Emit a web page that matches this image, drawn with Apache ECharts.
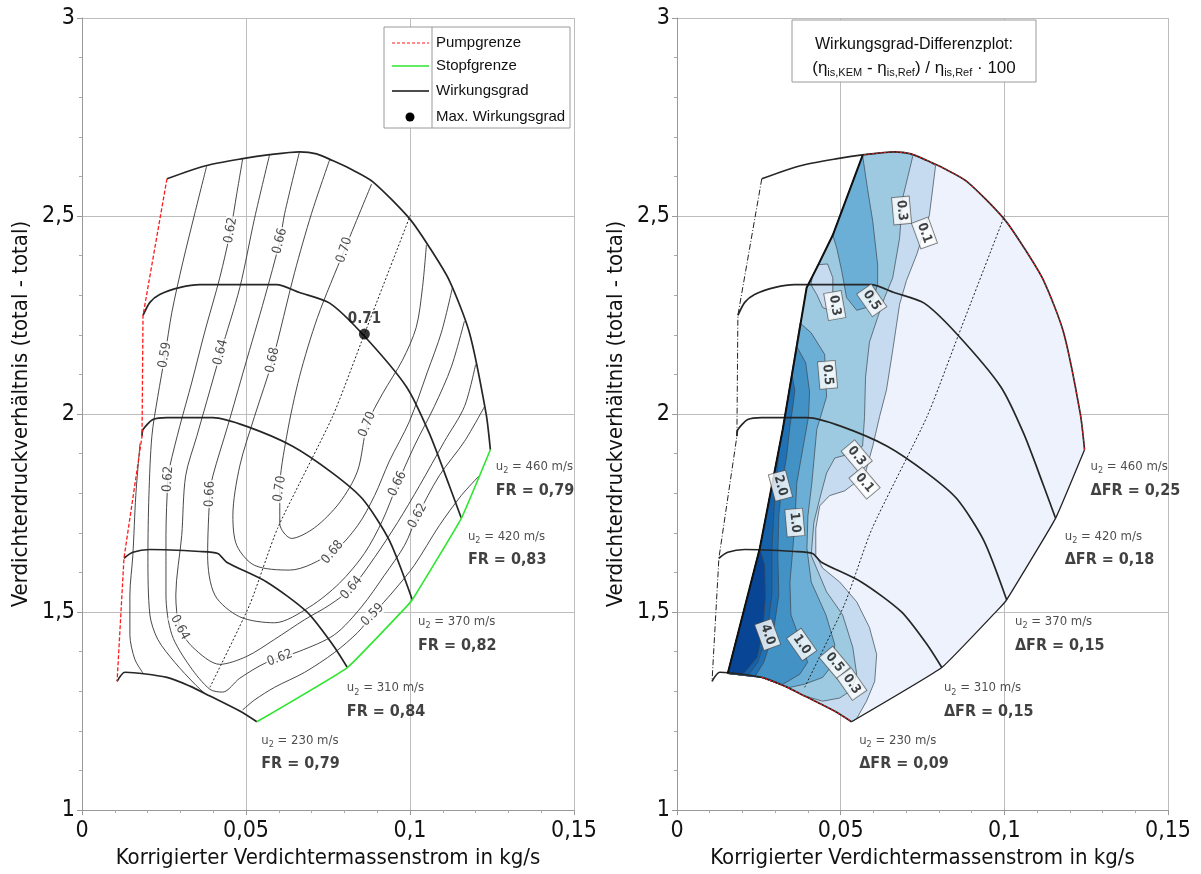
<!DOCTYPE html>
<html><head><meta charset="utf-8">
<script src="https://cdn.jsdelivr.net/npm/echarts@6/dist/echarts.min.js"></script>
<style>html,body{margin:0;padding:0;background:#fff}#c{width:1201px;height:874px}</style>
</head><body><div id="c"></div>
<script>
const NARROW = "'Liberation Sans Narrow','Arial Narrow','DejaVu Sans Condensed',sans-serif";
const REG = "'Liberation Sans',Arial,sans-serif";

// ---- axes ----
const xRange = [0, 0.15], xStep = 0.05;
const yRange = [1, 3], yStep = 0.5;
const xName = 'Korrigierter Verdichtermassenstrom in kg/s';
const yName = 'Verdichterdruckverhältnis (total - total)';

// ---- reference map (shared) ----
const surgeRef = [[0.0259,2.594],[0.0186,2.249],[0.0183,1.944],[0.0128,1.636],[0.0107,1.325]];
const speed460 = [[0.0259,2.594],[0.0377,2.627],[0.0490,2.645],[0.0572,2.655],[0.0663,2.662],[0.0715,2.657],[0.0764,2.640],[0.0816,2.620],[0.0886,2.587],[0.0998,2.494],[0.1060,2.420],[0.1120,2.337],[0.1181,2.206],[0.1232,2.001],[0.1245,1.910]];
const speed420 = [[0.0186,2.249],[0.0207,2.282],[0.0237,2.302],[0.0300,2.320],[0.0359,2.327],[0.0593,2.327],[0.0663,2.307],[0.0755,2.280],[0.0855,2.202],[0.0989,2.069],[0.1059,1.951],[0.1120,1.819],[0.1156,1.738]];
const speed370 = [[0.0183,1.944],[0.0186,1.961],[0.0216,1.986],[0.0259,1.991],[0.0399,1.991],[0.0502,1.969],[0.0642,1.919],[0.0764,1.851],[0.0855,1.786],[0.0937,1.681],[0.1007,1.531]];
const speed310 = [[0.0128,1.636],[0.0155,1.651],[0.0207,1.658],[0.0359,1.653],[0.0414,1.648],[0.0441,1.626],[0.0563,1.576],[0.0685,1.501],[0.0764,1.418],[0.0809,1.360]];
const speed230 = [[0.0107,1.325],[0.0131,1.348],[0.0259,1.335],[0.0329,1.313],[0.0390,1.288],[0.0481,1.250],[0.0533,1.223]];
const choke = [[0.0533,1.223],[0.0809,1.360],[0.0977,1.503],[0.1007,1.531],[0.1156,1.736],[0.1245,1.910]];
const maxEffLine = [[0.0390,1.310],[0.0511,1.518],[0.0596,1.711],[0.0764,1.994],[0.0861,2.202],[0.1001,2.502]];
const maxPoint = [0.0861, 2.202];

// ---- efficiency contours (left) ----
const c057 = [[0.0177,1.926],[0.0164,1.794],[0.0155,1.643],[0.0146,1.543],[0.0146,1.443],[0.0161,1.381],[0.0186,1.346]];
const c059L = [[0.0380,2.626],[0.0344,2.507],[0.0307,2.382],[0.0274,2.257],[0.0253,2.149],[0.0231,2.044],[0.0213,1.944],[0.0204,1.794],[0.0201,1.643],[0.0207,1.493],[0.0231,1.431],[0.0283,1.373],[0.0344,1.318],[0.0374,1.295]];
const c062 = [[0.0490,2.645],[0.0472,2.557],[0.0453,2.464],[0.0420,2.344],[0.0374,2.207],[0.0335,2.081],[0.0298,1.969],[0.0268,1.869],[0.0262,1.836],[0.0256,1.693],[0.0256,1.543],[0.0274,1.443],[0.0329,1.363],[0.0390,1.305],[0.0429,1.298],[0.0481,1.333],[0.0563,1.373],[0.0663,1.401],[0.0770,1.443],[0.0852,1.513],[0.0922,1.593],[0.0983,1.668],[0.1023,1.743],[0.1089,1.844],[0.1166,1.931],[0.1228,2.020]];
const c064 = [[0.0572,2.655],[0.0526,2.494],[0.0481,2.319],[0.0423,2.156],[0.0380,2.031],[0.0350,1.944],[0.0316,1.844],[0.0304,1.693],[0.0286,1.543],[0.0298,1.461],[0.0338,1.411],[0.0420,1.368],[0.0502,1.388],[0.0587,1.431],[0.0679,1.481],[0.0755,1.518],[0.0822,1.561],[0.0892,1.638],[0.0962,1.726],[0.1029,1.819],[0.1105,1.931],[0.1166,2.019],[0.1200,2.125]];
const c066 = [[0.0663,2.662],[0.0618,2.507],[0.0603,2.437],[0.0557,2.294],[0.0496,2.119],[0.0444,1.969],[0.0399,1.844],[0.0390,1.798],[0.0383,1.643],[0.0405,1.543],[0.0481,1.488],[0.0587,1.473],[0.0694,1.513],[0.0785,1.573],[0.0861,1.648],[0.0916,1.731],[0.0962,1.824],[0.1013,1.919],[0.1074,2.019],[0.1126,2.119],[0.1166,2.235]];
const c068 = [[0.0755,2.642],[0.0700,2.507],[0.0648,2.357],[0.0581,2.136],[0.0526,1.994],[0.0481,1.869],[0.0460,1.743],[0.0472,1.668],[0.0526,1.618],[0.0633,1.606],[0.0764,1.651],[0.0840,1.718],[0.0892,1.794],[0.0937,1.881],[0.0998,1.981],[0.1053,2.106],[0.1096,2.207],[0.1129,2.318]];
const c070 = [[0.0883,2.581],[0.0800,2.414],[0.0718,2.244],[0.0663,2.094],[0.0624,1.944],[0.0603,1.811],[0.0603,1.723],[0.0639,1.686],[0.0709,1.713],[0.0785,1.776],[0.0840,1.856],[0.0870,1.974],[0.0916,2.051],[0.0977,2.136],[0.1019,2.219],[0.1038,2.319],[0.1050,2.427]];
const c059R = [[0.0490,1.253],[0.0526,1.278],[0.0587,1.310],[0.0679,1.348],[0.0770,1.398],[0.0840,1.448],[0.0886,1.493],[0.0953,1.556],[0.1013,1.618],[0.1089,1.718],[0.1156,1.794],[0.1211,1.844]];
const contoursLeft = [c057, c059L, c062, c064, c066, c068, c070, c059R];
// [x, y, text, rotation]
const effLabels = [[0.0253,2.149,'0.59',80],[0.0453,2.464,'0.62',80],[0.0603,2.437,'0.66',76],[0.0800,2.414,'0.70',72],[0.0423,2.156,'0.64',76],[0.0581,2.136,'0.68',78],[0.0262,1.836,'0.62',86],[0.0390,1.798,'0.66',88],[0.0603,1.811,'0.70',82],[0.0870,1.974,'0.70',68],[0.0962,1.824,'0.66',65],[0.1023,1.743,'0.62',62],[0.0764,1.651,'0.68',50],[0.0822,1.561,'0.64',50],[0.0886,1.493,'0.59',45],[0.0603,1.384,'0.62',20],[0.0298,1.461,'0.64',-62]];

// ---- speed labels ----
const speedNames = ['460','420','370','310','230'];
const frLeft = ['0,79','0,83','0,82','0,84','0,79'];
const frRight = ['0,25','0,18','0,15','0,15','0,09'];
const anchorLeft = [[0.1263,1.889],[0.1178,1.713],[0.1026,1.498],[0.0809,1.330],[0.0548,1.198]];
const anchorRight = [[0.1265,1.889],[0.1186,1.713],[0.1034,1.498],[0.0817,1.330],[0.0558,1.198]];

// ---- difference map (right) ----
const kemLeft = [[0.0155,1.345],[0.0253,1.661],[0.0323,1.961],[0.0396,2.319],[0.0427,2.369],[0.0476,2.452],[0.0567,2.653]];
const d01 = [[0.0790,2.627],[0.0771,2.502],[0.0732,2.402],[0.0701,2.337],[0.0680,2.277],[0.0659,2.161],[0.0640,2.061],[0.0619,1.994],[0.0598,1.919],[0.0573,1.844],[0.0512,1.806],[0.0466,1.794],[0.0436,1.768],[0.0424,1.711],[0.0424,1.643],[0.0445,1.611],[0.0497,1.576],[0.0549,1.526],[0.0588,1.461],[0.0610,1.393],[0.0604,1.325],[0.0579,1.275],[0.0548,1.230]];
const d03 = [[0.0720,2.650],[0.0689,2.544],[0.0680,2.444],[0.0659,2.344],[0.0634,2.294],[0.0613,2.244],[0.0588,2.182],[0.0576,2.094],[0.0573,1.994],[0.0567,1.919],[0.0527,1.899],[0.0482,1.889],[0.0457,1.851],[0.0436,1.786],[0.0418,1.726],[0.0410,1.643],[0.0457,1.551],[0.0506,1.493],[0.0537,1.411],[0.0549,1.343],[0.0534,1.303],[0.0497,1.283],[0.0445,1.275],[0.0400,1.286]];
const d03bubble = [[0.0415,2.352],[0.0430,2.377],[0.0460,2.379],[0.0476,2.344],[0.0476,2.277],[0.0466,2.262],[0.0445,2.269],[0.0427,2.302],[0.0409,2.327]];
const d05tongue = [[0.0476,2.452],[0.0567,2.653],[0.0582,2.569],[0.0598,2.487],[0.0613,2.377],[0.0613,2.327],[0.0598,2.287],[0.0579,2.269],[0.0549,2.262],[0.0518,2.294],[0.0503,2.362],[0.0488,2.419]];
const d05 = [[0.0376,2.230],[0.0410,2.205],[0.0451,2.151],[0.0457,2.044],[0.0427,1.961],[0.0412,1.826],[0.0400,1.743],[0.0397,1.661],[0.0410,1.576],[0.0455,1.493],[0.0482,1.418],[0.0476,1.368],[0.0445,1.335],[0.0390,1.318],[0.0340,1.309]];
const d10 = [[0.0366,2.170],[0.0393,2.130],[0.0405,2.056],[0.0402,1.994],[0.0384,1.911],[0.0366,1.826],[0.0360,1.726],[0.0354,1.661],[0.0345,1.576],[0.0348,1.493],[0.0381,1.418],[0.0399,1.373],[0.0375,1.343],[0.0320,1.316]];
const d20 = [[0.0351,2.100],[0.0360,2.060],[0.0354,2.019],[0.0345,1.969],[0.0335,1.894],[0.0320,1.819],[0.0311,1.743],[0.0308,1.643],[0.0311,1.543],[0.0293,1.443],[0.0265,1.373],[0.0238,1.337]];
const d30 = [[0.0313,1.919],[0.0299,1.794],[0.0290,1.661],[0.0290,1.543],[0.0274,1.443],[0.0247,1.373],[0.0216,1.339]];
const d40 = [[0.0253,1.661],[0.0268,1.618],[0.0270,1.536],[0.0262,1.451],[0.0245,1.386],[0.0207,1.348],[0.0192,1.342]];
const dLevelColors = ['#edf2fc','#c6dbef','#9ecae1','#6baed6','#4292c6','#2171b5','#1662aa','#084594'];
const dLabels = [[0.0686,2.514,'0.3',-85],[0.0756,2.457,'0.1',-70],[0.0482,2.274,'0.3',-80],[0.0595,2.287,'0.5',-55],[0.0460,2.099,'0.5',-85],[0.0549,1.894,'0.3',-50],[0.0573,1.826,'0.1',-50],[0.0316,1.819,'2.0',-75],[0.0360,1.726,'1.0',-85],[0.0277,1.443,'4.0',-70],[0.0381,1.418,'1.0',-55],[0.0482,1.373,'0.5',-50],[0.0534,1.318,'0.3',-55]];

// ---- build polygons from the arrays ----
const leftBelow = y => kemLeft.filter(p => p[1] < y);
const topBetween = (x0, x1) => speed460.filter(p => p[0] > x0 && p[0] < x1);
const bottomBelowX = x => speed230.filter(p => p[0] > 0.0155 && p[0] < x).reverse();
const kemOutline = [...kemLeft, ...topBetween(0.0567, 1), ...choke.slice().reverse().slice(1), ...bottomBelowX(0.0533)];
const fills = [
  {pts: kemOutline, color: dLevelColors[0], stroke: null},
  {pts: [...kemLeft, ...topBetween(0.0567, 0.0790), ...d01, [0.0533,1.223], ...bottomBelowX(0.0533)], color: dLevelColors[1]},
  {pts: [...kemLeft, ...topBetween(0.0567, 0.0720), ...d03, ...bottomBelowX(0.0400)], color: dLevelColors[2]},
  {pts: d03bubble, color: dLevelColors[1]},
  {pts: d05tongue, color: dLevelColors[3]},
  {pts: [...leftBelow(2.23), ...d05, ...bottomBelowX(0.0340)], color: dLevelColors[3]},
  {pts: [...leftBelow(2.17), ...d10, ...bottomBelowX(0.0320)], color: dLevelColors[4]},
  {pts: [...leftBelow(2.10), ...d20, ...bottomBelowX(0.0238)], color: dLevelColors[5]},
  {pts: [...leftBelow(1.919), ...d30, ...bottomBelowX(0.0216)], color: dLevelColors[6]},
  {pts: [...leftBelow(1.661), ...d40, ...bottomBelowX(0.0192)], color: dLevelColors[7]}
];

const fmt = v => String(+v.toFixed(2)).replace('.', ',');
function xAxis(gi) {
  return {gridIndex: gi, type: 'value', min: xRange[0], max: xRange[1], interval: xStep,
    name: xName, nameLocation: 'middle', nameGap: 36,
    nameTextStyle: {fontFamily: NARROW, fontSize: 22, color: '#111', verticalAlign: 'top'},
    axisLine: {show: true, onZero: false, lineStyle: {color: '#999'}},
    axisTick: {show: true, inside: false, length: 5, lineStyle: {color: '#999'}},
    minorTick: {show: true, splitNumber: 5, length: 3, lineStyle: {color: '#aaa'}},
    splitLine: {show: true, lineStyle: {color: '#bdbdbd', width: 1}},
    axisLabel: {formatter: fmt, fontFamily: NARROW, fontSize: 23, color: '#111', margin: 9}};
}
function yAxis(gi) {
  return {gridIndex: gi, type: 'value', min: yRange[0], max: yRange[1], interval: yStep,
    name: yName, nameLocation: 'middle', nameGap: 50, nameRotate: 90,
    nameTextStyle: {fontFamily: NARROW, fontSize: 22, color: '#111'},
    axisLine: {show: true, onZero: false, lineStyle: {color: '#999'}},
    axisTick: {show: true, inside: false, length: 5, lineStyle: {color: '#999'}},
    minorTick: {show: true, splitNumber: 5, length: 3, lineStyle: {color: '#aaa'}},
    splitLine: {show: true, lineStyle: {color: '#bdbdbd', width: 1}},
    axisLabel: {formatter: fmt, fontFamily: NARROW, fontSize: 23, color: '#111', margin: 7}};
}
function line(data, gi, color, width, type, z, smooth) {
  return {type: 'line', data, xAxisIndex: gi, yAxisIndex: gi, symbol: 'none', silent: true,
    smooth: smooth === undefined ? 0.3 : smooth, z: z || 3, animation: false,
    lineStyle: {color, width, type: type || 'solid'}};
}
function textPoints(items, gi, labelStyle, z) {
  return {type: 'scatter', xAxisIndex: gi, yAxisIndex: gi, symbolSize: 1, silent: true, z: z || 8,
    itemStyle: {color: 'rgba(0,0,0,0)'}, animation: false,
    label: Object.assign({show: true, position: 'inside', formatter: '{b}'}, labelStyle),
    data: items.map(d => ({value: [d[0], d[1]], name: d[2], label: {rotate: d[3]}}))};
}
function speedText(anchors, prefix, fr, gi) {
  return {type: 'scatter', xAxisIndex: gi, yAxisIndex: gi, symbolSize: 1, silent: true, z: 9,
    itemStyle: {color: 'rgba(0,0,0,0)'}, animation: false,
    label: {show: true, position: [0, 0], align: 'left', verticalAlign: 'top',
      rich: {u: {fontFamily: NARROW, fontSize: 13, lineHeight: 18, color: '#222', verticalAlign: 'middle'},
             s: {fontFamily: NARROW, fontSize: 9, lineHeight: 9, color: '#222', verticalAlign: 'bottom'},
             b: {fontFamily: NARROW, fontSize: 16, fontWeight: 'bold', lineHeight: 30, color: '#111'}}},
    data: anchors.map((a, i) => ({value: a, label: {formatter: '{u|u}{s|2}{u| = ' + speedNames[i] + ' m/s}\n{b|' + prefix + 'FR = ' + fr[i] + '}'}}))};
}

const series = [];
// left panel
contoursLeft.forEach(c => series.push(line(c, 0, '#333', 0.9, 'solid', 3)));
series.push(line(maxEffLine, 0, '#222', 1, [2, 2], 4, 0.2));
[speed460, speed420, speed370, speed310, speed230].forEach(s => series.push(line(s, 0, '#262626', 1.7, 'solid', 5, 0.25)));
series.push(line(surgeRef, 0, '#ff1a1a', 1.3, [4, 2], 6, 0));
series.push(line(choke, 0, '#2ee62e', 1.6, 'solid', 6, 0.1));
series.push(textPoints(effLabels, 0, {fontFamily: NARROW, fontSize: 13, color: '#222', backgroundColor: '#fff', padding: [0, 1]}, 7));
series.push({type: 'scatter', xAxisIndex: 0, yAxisIndex: 0, data: [maxPoint], symbolSize: 11, silent: true, z: 9,
  itemStyle: {color: '#000'}, animation: false,
  label: {show: true, position: 'top', distance: 2, formatter: '0.71', fontFamily: NARROW, fontWeight: 'bold', fontSize: 15, color: '#111'}});
series.push(speedText(anchorLeft, '', frLeft, 0));

// right panel
series.push({type: 'custom', xAxisIndex: 1, yAxisIndex: 1, silent: true, z: 1, animation: false,
  data: fills.map((f, i) => [0.05, 2, i]),
  renderItem: (params, api) => {
    const f = fills[params.dataIndex];
    return {type: 'polygon', shape: {points: f.pts.map(p => api.coord(p))},
      style: {fill: f.color, stroke: f.stroke === null ? null : '#3b4650', lineWidth: 0.7}};
  }});
series.push(line(maxEffLine, 1, '#222', 1, [2, 2], 4, 0.2));
[speed460, speed420, speed370, speed310, speed230].forEach(s => series.push(line(s, 1, '#262626', 1.7, 'solid', 5, 0.25)));
series.push(line(surgeRef, 1, '#222', 1, [6, 2, 1, 2], 5, 0));
series.push(line(choke, 1, '#222', 1.3, 'solid', 5, 0.1));
series.push(line(kemLeft, 1, '#111', 2, 'solid', 6, 0));
series.push(line(speed460.filter(p => p[0] >= 0.0567), 1, '#ff1a1a', 1, [2, 2], 7, 0.25));
series.push(line(speed230.filter(p => p[0] >= 0.0155), 1, '#ff1a1a', 1.2, [2, 2], 7, 0.25));
series.push(textPoints(dLabels, 1, {fontFamily: NARROW, fontSize: 13, fontWeight: 'bold', color: '#111', backgroundColor: '#fff', borderColor: '#555', borderWidth: 0.8, padding: [2, 3]}, 8));
series.push(speedText(anchorRight, 'Δ', frRight, 1));

const legendRows = [['Pumpgrenze', 43], ['Stopfgrenze', 66], ['Wirkungsgrad', 91], ['Max. Wirkungsgrad', 117]];
const graphic = [
  {type: 'rect', shape: {x: 384, y: 27, width: 186, height: 101}, style: {fill: '#fff', stroke: '#9a9a9a', lineWidth: 1}, z: 10},
  {type: 'line', shape: {x1: 432, y1: 27, x2: 432, y2: 128}, style: {stroke: '#9a9a9a', lineWidth: 1}, z: 11},
  {type: 'line', shape: {x1: 392, y1: 43, x2: 429, y2: 43}, style: {stroke: '#ff1a1a', lineWidth: 1.2, lineDash: [3, 2]}, z: 11},
  {type: 'line', shape: {x1: 392, y1: 66, x2: 429, y2: 66}, style: {stroke: '#2ee62e', lineWidth: 1.6}, z: 11},
  {type: 'line', shape: {x1: 392, y1: 91, x2: 429, y2: 91}, style: {stroke: '#111', lineWidth: 1.3}, z: 11},
  {type: 'circle', shape: {cx: 410, cy: 117, r: 4.5}, style: {fill: '#000'}, z: 11},
  ...legendRows.map(r => ({type: 'text', x: 436, y: r[1], z: 11,
    style: {text: r[0], fontFamily: REG, fontSize: 15, fill: '#111', align: 'left', verticalAlign: 'middle'}})),
  {type: 'rect', shape: {x: 792, y: 20, width: 244, height: 62}, style: {fill: '#fff', stroke: '#9a9a9a', lineWidth: 1}, z: 10},
  {type: 'text', x: 914, y: 45, z: 11,
    style: {text: 'Wirkungsgrad-Differenzplot:', fontFamily: REG, fontSize: 16, fill: '#111', align: 'center', verticalAlign: 'middle'}},
  {type: 'text', x: 914, y: 68, z: 11,
    style: {text: '{m|(η}{s|is,KEM}{m| - η}{s|is,Ref}{m|) / η}{s|is,Ref}{m| · 100}', align: 'center', verticalAlign: 'middle',
      rich: {m: {fontFamily: REG, fontSize: 17, fill: '#111', lineHeight: 20, verticalAlign: 'middle'},
             s: {fontFamily: REG, fontSize: 11, fill: '#111', lineHeight: 11, verticalAlign: 'bottom'}}}}
];

const chart = echarts.init(document.getElementById('c'), null, {renderer: 'canvas'});
chart.setOption({
  animation: false,
  backgroundColor: '#fff',
  grid: [{left: 82, top: 18, width: 492, height: 799}, {left: 677, top: 18, width: 491, height: 799}],
  xAxis: [xAxis(0), xAxis(1)],
  yAxis: [yAxis(0), yAxis(1)],
  series,
  graphic
});
</script></body></html>
